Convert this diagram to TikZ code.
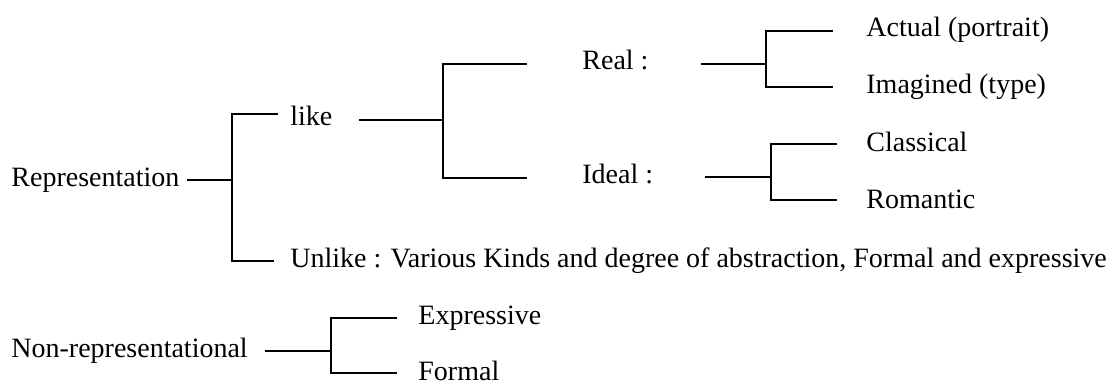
\documentclass[tikz,border=0pt]{standalone}
\usepackage{fontspec}
\setmainfont{Liberation Serif}
\begin{document}
\begin{tikzpicture}[x=0.5pt,y=-0.5pt,
  lbl/.style={anchor=base west,inner sep=0pt,font=\fontsize{14}{16}\selectfont},
  conn/.style={line width=1pt,line cap=butt}]
\useasboundingbox (0,0) rectangle (1118,385);
% texts
\node[lbl] (rep) at (11,186) {Representation};
\node[lbl] (like) at (290,126) {like};
\node[lbl] (unlike) at (290,267) {Unlike : Various Kinds and degree of abstraction, Formal and expressive};
\node[lbl] (real) at (582,70) {Real :};
\node[lbl] (ideal) at (582,183) {Ideal :};
\node[lbl] (actual) at (866,37) {Actual (portrait)};
\node[lbl] (imag) at (866,94) {Imagined (type)};
\node[lbl] (class) at (866,151) {Classical};
\node[lbl] (roman) at (866,208) {Romantic};
\node[lbl] (nonrep) at (11,357) {Non-representational};
\node[lbl] (expr) at (418,324) {Expressive};
\node[lbl] (formal) at (418,380) {Formal};
% coordinates
\coordinate (r0) at (187,180); \coordinate (r1) at (232,180);
\coordinate (rt) at (232,114); \coordinate (rb) at (232,261);
\coordinate (rte) at (278,114); \coordinate (rbe) at (274,261);
\coordinate (l0) at (359,120); \coordinate (l1) at (443,120);
\coordinate (lt) at (443,64); \coordinate (lb) at (443,178);
\coordinate (lte) at (527,64); \coordinate (lbe) at (527,178);
\coordinate (a0) at (701,64); \coordinate (a1) at (766,64);
\coordinate (at) at (766,31); \coordinate (ab) at (766,87);
\coordinate (ate) at (833,31); \coordinate (abe) at (833,87);
\coordinate (i0) at (705,177); \coordinate (i1) at (771,177);
\coordinate (it) at (771,144); \coordinate (ib) at (771,200);
\coordinate (ite) at (837,144); \coordinate (ibe) at (837,200);
\coordinate (n0) at (265,351); \coordinate (n1) at (331,351);
\coordinate (nt) at (331,318); \coordinate (nb) at (331,373);
\coordinate (nte) at (397,318); \coordinate (nbe) at (397,373);
% connectors
\draw[conn] (r0) -- (r1);
\draw[conn] (rte) -- (rt) -- (rb) -- (rbe);
\draw[conn] (l0) -- (l1);
\draw[conn] (lte) -- (lt) -- (lb) -- (lbe);
\draw[conn] (a0) -- (a1);
\draw[conn] (ate) -- (at) -- (ab) -- (abe);
\draw[conn] (i0) -- (i1);
\draw[conn] (ite) -- (it) -- (ib) -- (ibe);
\draw[conn] (n0) -- (n1);
\draw[conn] (nte) -- (nt) -- (nb) -- (nbe);
\end{tikzpicture}
\end{document}
